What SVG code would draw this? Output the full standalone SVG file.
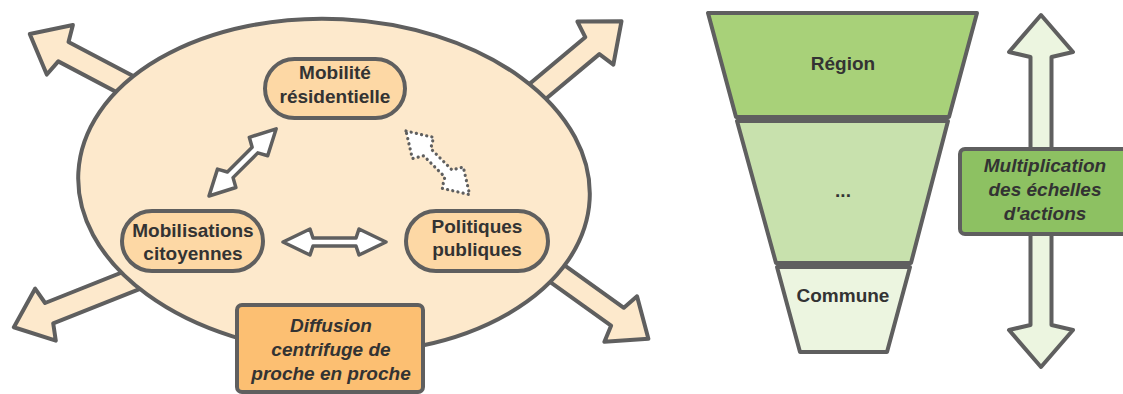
<svg xmlns="http://www.w3.org/2000/svg" width="1123" height="394" viewBox="0 0 1123 394">
<style>
.ln{stroke:#5f5f5f;stroke-width:4;stroke-linejoin:round}
.thin{stroke:#5f5f5f;stroke-width:3.5;stroke-linejoin:round}
.dot{stroke:#5f5f5f;stroke-width:3.2;stroke-linecap:round;stroke-dasharray:0.1 5.2;fill:#fff}
.t{font-family:"Liberation Sans",Arial,sans-serif;font-weight:bold;font-size:19px;fill:#333;text-anchor:middle}
.ti{font-style:italic}
.peach{fill:#fde9cc}
.node{fill:#fdd8a5}
</style>
<defs>
<polygon id="bigArrow" points="-2,0 -36,-28 -40,-11 -170,-11 -170,11 -40,11 -36,28"/>
</defs>
<g id="outward-arrows">
<use href="#bigArrow" class="ln peach" transform="translate(28,33) rotate(-152.2)"/>
<use href="#bigArrow" class="ln peach" transform="translate(623,20) rotate(-39.9)"/>
<use href="#bigArrow" class="ln peach" transform="translate(12,328) rotate(158.3)"/>
<use href="#bigArrow" class="ln peach" transform="translate(650,340) rotate(35.6)"/>
</g>
<g id="ellipse">
<ellipse cx="334" cy="186" rx="256" ry="167" transform="rotate(3 334 186)" class="ln peach"/>
</g>
<g id="connectors">
<polygon class="thin" fill="#fff" transform="translate(209,196) rotate(-45)" points="0,0 25,-13 30,-4 65,-4 70,-13 95,0 70,13 65,4 30,4 25,13"/>
<polygon class="thin" fill="#fff" transform="translate(283,242)" points="0,0 27,-13 30,-4 73,-4 76,-13 103,0 76,13 73,4 30,4 27,13"/>
<polygon class="dot" transform="translate(406,131) rotate(45)" points="0,0 24,-15 30,-5 60,-5 66,-15 90,0 66,15 60,5 30,5 24,15"/>
<polygon class="ln" fill="#ecf5e0" points="1041,15 1073,52 1051.5,57 1051.5,325 1073,330 1041,367 1009,330 1030.5,325 1030.5,57 1009,52"/>
</g>
<g id="mobilite">
<rect x="265" y="59" width="140" height="59" rx="29.5" class="ln node"/>
<text class="t" x="335" y="79">Mobilité</text>
<text class="t" x="335" y="103">résidentielle</text>
</g>
<g id="mobilisations">
<rect x="122" y="211" width="141" height="60" rx="30" class="ln node"/>
<text class="t" x="193" y="237">Mobilisations</text>
<text class="t" x="193" y="260">citoyennes</text>
</g>
<g id="politiques">
<rect x="406" y="211" width="142" height="60" rx="30" class="ln node"/>
<text class="t" x="477" y="233">Politiques</text>
<text class="t" x="477" y="256">publiques</text>
</g>
<g id="diffusion">
<rect x="237" y="305" width="186" height="87" rx="5" class="ln" fill="#fcbf72"/>
<text class="t ti" x="331" y="332">Diffusion</text>
<text class="t ti" x="331" y="356">centrifuge de</text>
<text class="t ti" x="331" y="380">proche en proche</text>
</g>
<g id="region">
<polygon class="ln" fill="#a8d179" points="708,13 977,13 949,117 736,117"/>
<text class="t" x="843" y="70">Région</text>
</g>
<g id="intermediaire">
<polygon class="ln" fill="#c8e1ad" points="737,121 948,121 911,263 776,263"/>
<text class="t" x="843" y="197">...</text>
</g>
<g id="commune">
<polygon class="ln" fill="#ecf5e0" points="777,267 910,267 887,352 800,352"/>
<text class="t" x="843" y="302">Commune</text>
</g>
<g id="multiplication">
<rect x="960" y="149" width="170" height="85" rx="5" class="ln" fill="#8dc162"/>
<text class="t ti" x="1045" y="172">Multiplication</text>
<text class="t ti" x="1045" y="196">des échelles</text>
<text class="t ti" x="1045" y="220">d'actions</text>
</g>
</svg>
